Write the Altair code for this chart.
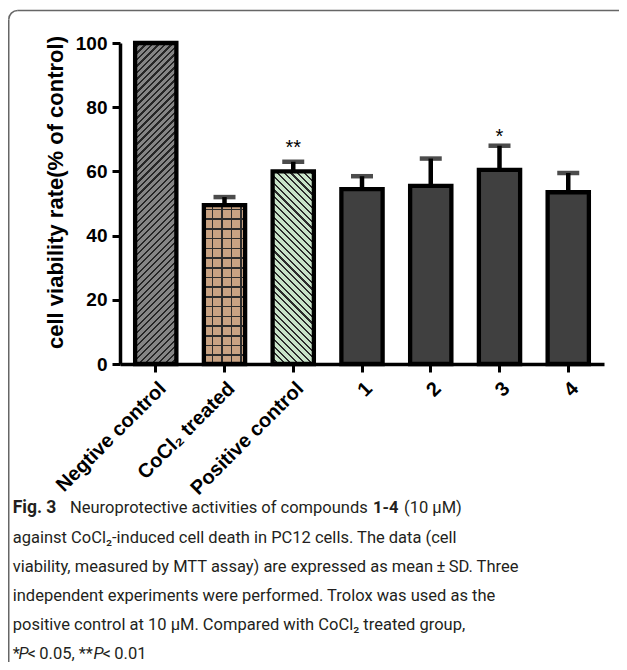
import math
import altair as alt
import pandas as pd

# ---------------- data ----------------
cats = ["Negtive control", "CoCl\u2082 treated", "Positive control", "1", "2", "3", "4"]
means = [100, 49.5, 60, 54.5, 55.5, 60.5, 53.5]
sds = [0, 2.5, 3, 4, 8.5, 7.5, 6]
sig = ["", "", "**", "", "", "*", ""]
y_ticks = [0, 20, 40, 60, 80, 100]

# ---------------- layout ----------------
W, H = 484, 321
PI, PO = 0.4, 0.22
n = len(cats)
step = W / (n - PI + 2 * PO)
bw = step * (1 - PI)
PAD_L, PAD_T = 112, 35
PAD_R = 611 - PAD_L - W
PAD_B = 654 - PAD_T - H
FONT = "Liberation Sans"

df = pd.DataFrame({
    "cat": cats,
    "mean": means,
    "sd": sds,
    "top": [m + s for m, s in zip(means, sds)],
    "sig": sig,
})

xscale = alt.Scale(domain=cats, paddingInner=PI, paddingOuter=PO)
yscale = alt.Scale(domain=[0, 100], nice=False)
xaxis = alt.Axis(title=None, labelAngle=-45, labelFont=FONT, labelFontWeight="bold",
                 labelFontSize=20, labelColor="black", tickSize=8, tickWidth=3,
                 tickColor="black", domainColor="black", domainWidth=3.5,
                 labelPadding=6, grid=False)
yaxis = alt.Axis(title=None, values=y_ticks, labelFont=FONT, labelFontWeight="bold",
                 labelFontSize=19, labelColor="black", tickSize=8, tickWidth=3,
                 tickColor="black", domainColor="black", domainWidth=3.5,
                 labelPadding=5, grid=False)
X = alt.X("cat:N", sort=cats, scale=xscale, axis=xaxis)
Y = alt.Y("mean:Q", scale=yscale, axis=yaxis)

base = alt.Chart(df)


def diag_gradient(h, w, spacing, thick, bg, fg, direction):
    total = h + w
    per = spacing * math.sqrt(2) / total
    th = thick * math.sqrt(2) / total
    stops = []
    t = 0.0
    while t < 1:
        a = min(t + per - th, 1.0)
        b = min(t + per, 1.0)
        stops += [{"offset": round(t, 5), "color": bg}, {"offset": round(a, 5), "color": bg},
                  {"offset": round(a, 5), "color": fg}, {"offset": round(b, 5), "color": fg}]
        t += per
    r = w / h
    k = (1 + r) / (1 + r * r)
    if direction == "/":
        g = dict(x1=0, y1=0, x2=k * r, y2=k)
    else:
        g = dict(x1=0, y1=1, x2=k * r, y2=1 - k)
    return {"gradient": "linear", **g, "stops": stops}


def line_gradient(length, spacing, thick, fg, vertical_lines):
    per = spacing / length
    th = thick / length
    clear = "rgba(0,0,0,0)"
    stops = []
    t = 0.0
    while t < 1:
        a = min(t + per - th, 1.0)
        b = min(t + per, 1.0)
        stops += [{"offset": round(t, 5), "color": clear}, {"offset": round(a, 5), "color": clear},
                  {"offset": round(a, 5), "color": fg}, {"offset": round(b, 5), "color": fg}]
        t += per
    if vertical_lines:
        g = dict(x1=0, y1=0, x2=1, y2=0)
    else:
        g = dict(x1=0, y1=1, x2=0, y2=0)
    return {"gradient": "linear", **g, "stops": stops}


px = H / 100.0
h_neg = means[0] * px
h_co = means[1] * px
h_pos = means[2] * px

layers = []
one = pd.DataFrame({"a": [0]})

# frame (top line, left line, rounded corner)
FX, FY, FR = -PAD_L + 0.75, -PAD_T + 2.5, 9
FRAME = dict(color="#666666", strokeWidth=1.5)
layers.append(alt.Chart(one).mark_rule(**FRAME).encode(
    x=alt.value(FX + FR), x2=alt.value(W + PAD_R + 40), y=alt.value(FY)))
layers.append(alt.Chart(one).mark_rule(**FRAME).encode(
    x=alt.value(FX), y=alt.value(FY + FR), y2=alt.value(H + PAD_B + 40)))
layers.append(alt.Chart(one).mark_arc(
    radius=FR, innerRadius=FR, theta=3 * math.pi / 2, theta2=2 * math.pi,
    fillOpacity=0, stroke="#666666", strokeWidth=1.5
).encode(x=alt.value(FX + FR), y=alt.value(FY + FR)))

# patterned fills
neg = base.transform_filter(alt.datum.cat == cats[0]).mark_bar(
    fill=diag_gradient(h_neg, bw, 4.6, 1.6, "#858585", "#262626", "/"), strokeWidth=0
).encode(x=X, y=Y)
co_bg = base.transform_filter(alt.datum.cat == cats[1]).mark_bar(
    fill="#c9a383", strokeWidth=0).encode(x=X, y=Y)
co_v = base.transform_filter(alt.datum.cat == cats[1]).mark_bar(
    fill=line_gradient(bw, 9.5, 1.6, "#2b2b2b", True), strokeWidth=0).encode(x=X, y=Y)
co_h = base.transform_filter(alt.datum.cat == cats[1]).mark_bar(
    fill=line_gradient(h_co, 9.7, 1.6, "#2b2b2b", False), strokeWidth=0).encode(x=X, y=Y)
pos = base.transform_filter(alt.datum.cat == cats[2]).mark_bar(
    fill=diag_gradient(h_pos, bw, 4.8, 1.5, "#c8e3c8", "#2b2b2b", "\\"), strokeWidth=0
).encode(x=X, y=Y)
comp = base.transform_filter(alt.FieldOneOfPredicate(field="cat", oneOf=cats[3:])).mark_bar(
    fill="#404040", strokeWidth=0).encode(x=X, y=Y)
layers += [neg, co_bg, co_v, co_h, pos, comp]

# outlines
outline = base.mark_bar(fillOpacity=0, stroke="black", strokeWidth=4.3,
                        strokeJoin="miter").encode(x=X, y=Y)
layers.append(outline)

# error bars (upper only)
err = base.transform_filter(alt.datum.sd > 0).mark_rule(
    color="black", strokeWidth=4.5).encode(x=X, y=Y, y2="top:Q")
cap = base.transform_filter(alt.datum.sd > 0).mark_tick(
    color="black", thickness=4.5, size=22, orient="horizontal"
).encode(x=X, y=alt.Y("top:Q", scale=yscale, axis=yaxis))
layers += [err, cap]

# significance stars
star2 = base.transform_filter(alt.datum.sig == "**").mark_text(
    font=FONT, fontSize=20, color="black", baseline="alphabetic", dy=-8
).encode(x=X, y=alt.Y("top:Q", scale=yscale, axis=yaxis), text="sig:N")
star1 = base.transform_filter(alt.datum.sig == "*").mark_text(
    font=FONT, fontSize=20, color="black", baseline="alphabetic", dy=-3
).encode(x=X, y=alt.Y("top:Q", scale=yscale, axis=yaxis), text="sig:N")
layers += [star2, star1]

# y axis title
ytitle = alt.Chart(one).mark_text(
    text="cell viability rate(% of control)", angle=270, font=FONT, fontWeight="bold",
    fontSize=22, color="black", align="center", baseline="alphabetic"
).encode(x=alt.value(-57), y=alt.value(149.5))
layers.append(ytitle)

# caption
CAP_FONT = "Roboto"
CAP_SIZE = 16.5
CAP_COLOR = "#231f20"
cap_lines = [
    [("Fig. 3", 12.7, "bold", "normal", 17.5),
     ("Neuroprotective activities of compounds", 70, "normal", "normal", CAP_SIZE),
     ("1-4", 373, "bold", "normal", CAP_SIZE),
     ("(10 \u03bcM)", 404, "normal", "normal", CAP_SIZE)],
    [("against CoCl\u2082-induced cell death in PC12 cells. The data (cell", 12.7, "normal", "normal", CAP_SIZE)],
    [("viability, measured by MTT assay) are expressed as mean\u2009\u00b1\u2009SD. Three", 12.7, "normal", "normal", CAP_SIZE)],
    [("independent experiments were performed. Trolox was used as the", 12.7, "normal", "normal", CAP_SIZE)],
    [("positive control at 10 \u03bcM. Compared with CoCl\u2082 treated group,", 12.7, "normal", "normal", CAP_SIZE)],
    [("*", 12.7, "normal", "normal", CAP_SIZE),
     ("P", 18.5, "normal", "italic", CAP_SIZE),
     ("\u2009<\u20090.05, **", 27.5, "normal", "normal", CAP_SIZE),
     ("P", 93.5, "normal", "italic", CAP_SIZE),
     ("\u2009<\u20090.01", 102.5, "normal", "normal", CAP_SIZE)],
]
baselines = [513.3, 542.5, 571.7, 600.9, 630.1, 659.3]
for line, yb in zip(cap_lines, baselines):
    for txt, xp, wt, st, fs in line:
        layers.append(alt.Chart(one).mark_text(
            text=txt, font=CAP_FONT, fontSize=fs, fontWeight=wt, fontStyle=st,
            color=CAP_COLOR, align="left", baseline="alphabetic"
        ).encode(x=alt.value(xp - 8 - PAD_L), y=alt.value(yb - 8 - PAD_T)))

chart = alt.layer(*layers).properties(
    width=W, height=H,
    autosize=alt.AutoSizeParams(type="none"),
    padding={"left": PAD_L, "top": PAD_T, "right": PAD_R, "bottom": PAD_B},
    background="white",
).configure_view(stroke=None)

chart.save("out.html", embed_options={"renderer": "svg", "actions": False})
